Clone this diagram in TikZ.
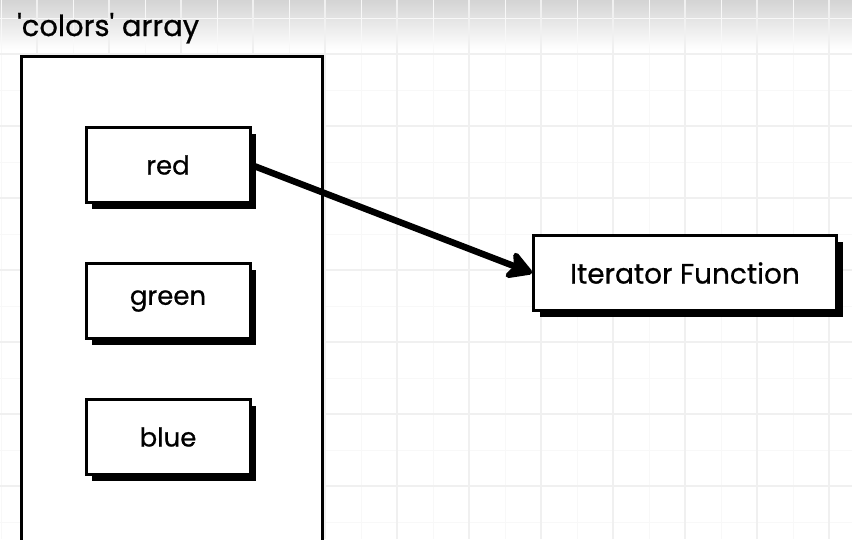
\documentclass[tikz,border=0pt]{standalone}
\usepackage{fontspec}
\setmainfont{Poppins}[FakeBold=0.7]
\usetikzlibrary{positioning, shadows, arrows.meta}
\definecolor{minorgrid}{HTML}{F8F8F8}
\definecolor{majorgrid}{HTML}{F0F0F0}

\begin{document}
\begin{tikzpicture}[x=1pt, y=-1pt, >={Stealth[length=30pt, width=34pt, inset=8pt, round]}, node distance=58pt,
    valbox/.style={draw, line width=3pt, fill=white, minimum width=164pt, minimum height=75pt,
        font=\fontsize{26}{30}\selectfont,
        drop shadow={shadow xshift=6pt, shadow yshift=-6pt, fill=black, opacity=1}}]
\useasboundingbox (0,0) rectangle (852,539);
\clip (0,0) rectangle (852,539);

% background grid
\fill[white] (0,0) rectangle (852,539);
\shade[top color=black!17, bottom color=white] (0,0) rectangle (852,50);
\foreach \x in {1,37,...,852} \draw[minorgrid, line width=1pt] (\x,0) -- (\x,539);
\foreach \y in {18,54,...,539} \draw[minorgrid, line width=1pt] (0,\y) -- (852,\y);
\foreach \x in {37,109,...,852} \draw[majorgrid, line width=1.2pt] (\x,0) -- (\x,539);
\foreach \y in {54,126,...,539} \draw[majorgrid, line width=1.2pt] (0,\y) -- (852,\y);

\node[anchor=base west, inner sep=0pt, font=\fontsize{29}{34}\selectfont] (title) at (17,36) {\textquotesingle colors\textquotesingle{} array};
\node[draw, fill=white, line width=3pt, minimum width=301pt, minimum height=540pt, anchor=north west, inner sep=0pt] (colors) at (19.5,54.5) {};

\node[valbox] (red) at (168,165) {red};
\node[valbox, below=of red] (green) {green};
\node[valbox, below=of green] (blue) {blue};

\node[valbox, minimum width=303pt, minimum height=75pt, font=\fontsize{28}{33}\selectfont] (iter) at (685,273) {Iterator Function};

\draw[->, line width=6.5pt] (red.east) -- (iter.west);
\end{tikzpicture}
\end{document}
